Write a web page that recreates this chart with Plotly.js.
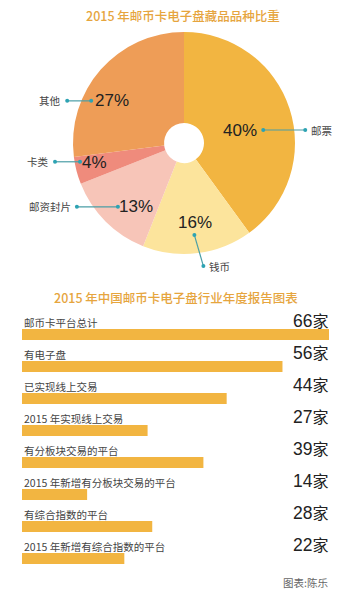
<!DOCTYPE html>
<html><head><meta charset="utf-8">
<script src="https://cdn.plot.ly/plotly-3.0.1.min.js"></script>
<style>html,body{margin:0;padding:0;background:#fff}#chart{width:342px;height:600px}</style>
</head><body><div id="chart"></div>
<script>
// ---- data ----
const pieTitle = '2015 年邮币卡电子盘藏品品种比重';
const pieLabels = ['邮票', '钱币', '邮资封片', '卡类', '其他'];
const pieValues = [40, 16, 13, 4, 27];
const pieColors = ['#F2B541', '#FCE49C', '#F7C5B8', '#EF8B7C', '#EE9D57'];

const barTitle = '2015 年中国邮币卡电子盘行业年度报告图表';
const barCategories = ['邮币卡平台总计', '有电子盘', '已实现线上交易', '2015 年实现线上交易',
  '有分板块交易的平台', '2015 年新增有分板块交易的平台', '有综合指数的平台', '2015 年新增有综合指数的平台'];
const barValues = [66, 56, 44, 27, 39, 14, 28, 22];
const barUnit = '家';
const credit = '图表:陈乐';

// ---- layout constants ----
const W = 342, H = 600;
const cx = 184, cy = 143, R = 111;
const gold = '#E6A53E', teal = '#2DA3B3';
// per-slice label placement: [radius fraction, angle tweak deg]
const labelPlace = [[0.52, 5], [0.72, -1], [0.72, -8], [0.83, 2], [0.75, -11]];
// leaders relative to label centre: [dx1, dy1, dx2, dy2, side]
const leaders = [[23, 0, 65, 0, 1], [-1, 13, 8, 44, 1], [-18, 0, -59, 0, -1], [-14, -1, -39, -1, -1], [-21, 0, -45, 0, -1]];

const px = x => x / W, py = y => 1 - y / H;
const annotations = [], shapes = [];

annotations.push({xref: 'paper', yref: 'paper', x: px(183), y: py(15), text: pieTitle, showarrow: false,
  xanchor: 'center', yanchor: 'middle', font: {family: 'Noto Sans CJK SC', size: 12.5, color: gold, weight: 500}});

const total = pieValues.reduce((a, b) => a + b, 0);
let cum = 0;
pieValues.forEach((v, i) => {
  const mid = (cum + v / 2) / total * 360 + labelPlace[i][1];
  cum += v;
  const r = R * labelPlace[i][0];
  const lx = cx + r * Math.sin(mid * Math.PI / 180);
  const ly = cy - r * Math.cos(mid * Math.PI / 180);
  annotations.push({xref: 'paper', yref: 'paper', x: px(lx), y: py(ly), text: Math.round(v / total * 100) + '%',
    showarrow: false, xanchor: 'center', yanchor: 'middle',
    font: {family: 'Liberation Sans, Arial', size: 17, color: '#222'}});
  const [dx1, dy1, dx2, dy2, side] = leaders[i];
  const x1 = lx + dx1, y1 = ly + dy1, x2 = lx + dx2, y2 = ly + dy2;
  shapes.push({type: 'line', xref: 'paper', yref: 'paper', x0: px(x1), y0: py(y1), x1: px(x2), y1: py(y2),
    line: {color: '#4A9EA6', width: 1.2}});
  [[x1, y1], [x2, y2]].forEach(([x, y]) => shapes.push({type: 'circle', xref: 'paper', yref: 'paper',
    x0: px(x - 2), x1: px(x + 2), y0: py(y + 2), y1: py(y - 2), fillcolor: teal, line: {width: 0}}));
  annotations.push({xref: 'paper', yref: 'paper', x: px(x2 + side * 4), y: py(y2), text: pieLabels[i], showarrow: false,
    xanchor: side > 0 ? 'left' : 'right', yanchor: 'middle',
    font: {family: 'Noto Sans CJK SC', size: 10.5, color: '#444'}});
});

annotations.push({xref: 'paper', yref: 'paper', x: px(176), y: py(297), text: barTitle, showarrow: false,
  xanchor: 'center', yanchor: 'middle', font: {family: 'Noto Sans CJK SC', size: 12.5, color: gold, weight: 500}});

barCategories.forEach((c, i) => {
  annotations.push({xref: 'paper', yref: 'y', x: px(22), y: c, yshift: 12.5, text: c, showarrow: false,
    xanchor: 'left', yanchor: 'middle', font: {family: 'Noto Sans CJK SC', size: 10.5, color: '#444'}});
  annotations.push({xref: 'paper', yref: 'y', x: px(330), y: c, yshift: 13.5,
    text: barValues[i] + '<span style="font-size:16px">' + barUnit + '</span>', showarrow: false,
    xanchor: 'right', yanchor: 'middle', font: {family: 'Liberation Sans, Noto Sans CJK SC', size: 17.5, color: '#222'}});
});

annotations.push({xref: 'paper', yref: 'paper', x: px(330), y: py(582), text: credit, showarrow: false,
  xanchor: 'right', yanchor: 'middle', font: {family: 'Noto Sans CJK SC', size: 10.5, color: '#666'}});

const data = [
  {type: 'pie', labels: pieLabels, values: pieValues, marker: {colors: pieColors, line: {width: 0}},
    sort: false, direction: 'clockwise', rotation: 0, hole: 0.18, textinfo: 'none', hoverinfo: 'none',
    domain: {x: [px(cx - R), px(cx + R)], y: [py(cy + R), py(cy - R)]}, showlegend: false},
  {type: 'bar', orientation: 'h', x: barValues, y: barCategories, marker: {color: '#F2B541'},
    width: 0.34, hoverinfo: 'none', showlegend: false}
];

const layout = {
  width: W, height: H, margin: {l: 0, r: 0, t: 0, b: 0},
  paper_bgcolor: '#fff', plot_bgcolor: '#fff', showlegend: false,
  xaxis: {domain: [px(22), px(329)], range: [0, Math.max(...barValues)], showgrid: false, zeroline: false,
    showticklabels: false, showline: false, fixedrange: true},
  yaxis: {domain: [py(574.5), py(318.5)], type: 'category', range: [barCategories.length - 0.5, -0.5],
    showgrid: false, zeroline: false, showticklabels: false, showline: false, fixedrange: true},
  annotations, shapes
};
Plotly.newPlot('chart', data, layout, {staticPlot: true});
</script></body></html>
